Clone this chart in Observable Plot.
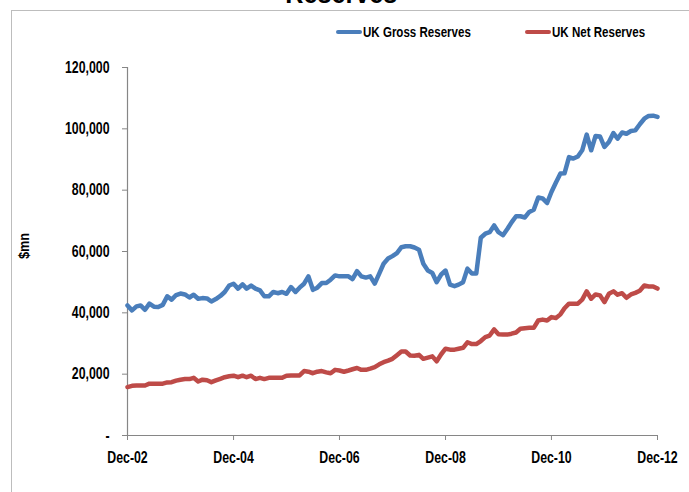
<!DOCTYPE html>
<html>
<head>
<meta charset="utf-8">
<script src="https://cdn.jsdelivr.net/npm/d3@7"></script>
<script src="https://cdn.jsdelivr.net/npm/@observablehq/plot@0.6"></script>
<style>
  html, body { margin: 0; padding: 0; background: #fff; }
  #wrap { position: relative; width: 689px; height: 492px; overflow: hidden; font-family: 'Liberation Sans', Arial, sans-serif; font-weight: bold; }
  #wrap svg { position: absolute; left: 0; top: 0; }
  .frameTop { position: absolute; left: 11px; top: 10px; width: 690px; height: 0; border-top: 1.5px solid #bdbdbd; }
  .frameLeft { position: absolute; left: 11px; top: 10px; width: 0; height: 500px; border-left: 1.5px solid #bdbdbd; }
  #title { position: absolute; left: 0; width: 689px; top: -20px; text-align: center; font-size: 28px; line-height: 28px; padding-right: 6px; box-sizing: border-box; }
  #title span { display: inline-block; transform: scaleX(0.9); }
  .leg { position: absolute; top: 24px; font-size: 15px; line-height: 16px; display: flex; align-items: center; white-space: nowrap; }
  .leg .tx { display: inline-block; transform: scaleX(0.77); transform-origin: left center; }
  .sw { display: inline-block; width: 26px; height: 4.5px; border-radius: 2px; margin-right: 1px; }
  #ylab { position: absolute; left: 23px; top: 246px; font-size: 15px; transform: translate(-50%, -50%) rotate(-90deg); white-space: nowrap; }
  #ylab span { display: inline-block; transform: scaleX(0.85); }
</style>
</head>
<body>
<div id="wrap">
  <div class="frameTop"></div>
  <div class="frameLeft"></div>
  <div id="title"><span></span></div>
  <div id="ylab"><span></span></div>
</div>
<script>
const titleText = "Reserves";
const yLabelText = "$mn";
const seriesNames = ["UK Gross Reserves", "UK Net Reserves"];
const seriesColors = ["#4A7EBB", "#BE4B48"];

// Monthly, Dec-2002 .. Dec-2012 (121 months)
const gross = [
  42400, 40800, 42100, 42400, 41000, 43000, 42000, 41900, 42600, 45400, 44300, 45800,
  46300, 46000, 45000, 45900, 44600, 44800, 44700, 43700, 44500, 45500, 46800, 48900,
  49500, 47900, 49300, 47900, 48900, 47900, 47300, 45400, 45400, 46800, 46400, 46800,
  46200, 48400, 46800, 48200, 49500, 51900, 47500, 48200, 49700, 49700, 50800, 52200,
  51900, 51900, 51900, 51000, 53600, 51900, 51500, 51900, 49500, 52800, 56000, 57700,
  58500, 59500, 61400, 61700, 61700, 61300, 60600, 56000, 53800, 53000, 50000, 52500,
  53800, 49200, 48700, 49200, 50000, 54400, 52800, 52800, 64500, 65800, 66300, 68500,
  66300, 65300, 67400, 69500, 71500, 71500, 71100, 72900, 73600, 77600, 77300, 75800,
  79400, 82500, 85400, 85500, 90800, 90300, 91000, 93000, 98100, 93000, 97700, 97500,
  94100, 95700, 98600, 96800, 98800, 98400, 99300, 99500, 101500, 103300, 104200, 104300,
  103900
];
const net = [
  15800, 16200, 16300, 16300, 16300, 16900, 16900, 16900, 16900, 17300, 17400, 17900,
  18200, 18400, 18400, 18800, 17600, 18200, 18000, 17400, 18000, 18500, 19000, 19300,
  19500, 19000, 19500, 19000, 19500, 18400, 18800, 18400, 18800, 18800, 18800, 18800,
  19500, 19600, 19600, 19600, 21000, 20800, 20300, 20800, 21000, 20600, 20300, 21400,
  21200, 20800, 21200, 21600, 22000, 21400, 21400, 21800, 22300, 23200, 23900, 24400,
  25000, 26200, 27400, 27400, 26100, 26000, 26300, 25000, 25400, 25800, 24200, 26500,
  28300, 28000, 28000, 28300, 28600, 30400, 29800, 29800, 30800, 32100, 32600, 34600,
  33000, 32900, 32900, 33200, 33600, 34800, 35000, 35100, 35100, 37500, 37800, 37500,
  38600, 38300, 39500, 41500, 43000, 43000, 43000, 44300, 47000, 44600, 46000, 45700,
  43500, 46200, 47000, 45900, 46400, 44900, 46000, 46500, 47200, 48900, 48600, 48600,
  47900
];
const xTickLabels = ["Dec-02", "Dec-04", "Dec-06", "Dec-08", "Dec-10", "Dec-12"];
const yTicks = [0, 20000, 40000, 60000, 80000, 100000, 120000];

const monthDate = i => new Date(Date.UTC(2002, 11 + i, 1));
const rows = [];
gross.forEach((v, i) => rows.push({date: monthDate(i), value: v, series: seriesNames[0]}));
net.forEach((v, i) => rows.push({date: monthDate(i), value: v, series: seriesNames[1]}));
const xTickDates = xTickLabels.map((_, k) => monthDate(k * 24));
const xLabelMap = new Map(xTickDates.map((d, k) => [+d, xTickLabels[k]]));
const start = monthDate(0), end = monthDate(gross.length - 1);

const font = "'Liberation Sans', Arial, sans-serif";
const axisGray = "#868686";

const chart = Plot.plot({
  width: 689,
  height: 492,
  marginTop: 67,
  marginBottom: 57,
  marginLeft: 127,
  marginRight: 32,
  style: {fontFamily: font, fontWeight: "bold", background: "transparent", overflow: "visible"},
  x: {type: "utc", domain: [start, end]},
  y: {domain: [0, 120000]},
  color: {domain: seriesNames, range: seriesColors},
  marks: [
    Plot.axisY({ticks: yTicks, tickSize: 5, tickPadding: 13, stroke: axisGray, fill: "#000", fontSize: 16, fontWeight: "bold",
      tickFormat: d => d === 0 ? "-" : d3.format(",")(d), label: null}),
    Plot.axisX({ticks: xTickDates, tickSize: 5, tickPadding: 11, stroke: axisGray, fill: "#000", fontSize: 16, fontWeight: "bold",
      tickFormat: d => xLabelMap.get(+d), label: null}),
    Plot.ruleX([start], {stroke: axisGray, strokeWidth: 1.2}),
    Plot.ruleY([0], {stroke: axisGray, strokeWidth: 1.2}),
    Plot.lineY(rows, {x: "date", y: "value", z: "series", stroke: "series", strokeWidth: 4.5, strokeLinejoin: "round", strokeLinecap: "round"})
  ]
});

const wrap = document.getElementById("wrap");
wrap.insertBefore(chart, wrap.firstChild);
// condense tick-label glyphs (reference uses a narrow bold face)
chart.querySelectorAll("text").forEach(t => {
  const len = t.getComputedTextLength();
  if (len > 0) {
    t.setAttribute("textLength", (len * 0.77).toFixed(1));
    t.setAttribute("lengthAdjust", "spacingAndGlyphs");
  }
});
document.querySelector("#title span").textContent = titleText;
document.querySelector("#ylab span").textContent = yLabelText;

const legendPos = [336, 525];
seriesNames.forEach((name, k) => {
  const item = document.createElement("div");
  item.className = "leg";
  item.style.left = legendPos[k] + "px";
  const sw = document.createElement("span");
  sw.className = "sw";
  sw.style.background = seriesColors[k];
  const tx = document.createElement("span");
  tx.className = "tx";
  tx.textContent = name;
  item.appendChild(sw);
  item.appendChild(tx);
  wrap.appendChild(item);
});
</script>
</body>
</html>
